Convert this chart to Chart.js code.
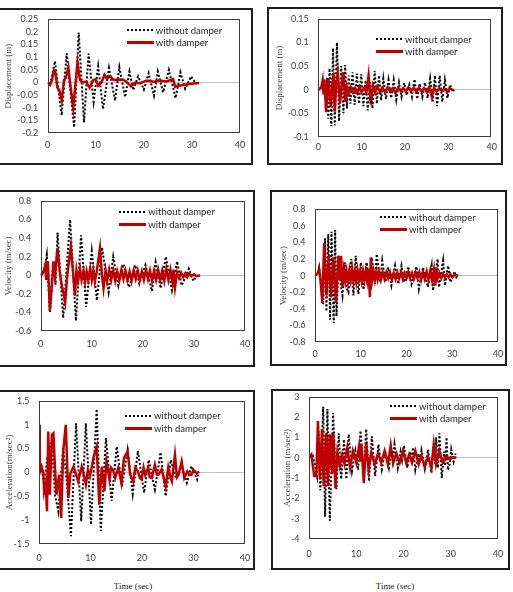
<!DOCTYPE html>
<html>
<head>
<meta charset="utf-8">
<script src="https://cdn.jsdelivr.net/npm/chart.js@4.4.1/dist/chart.umd.min.js"></script>
<style>
  body { margin: 0; background: #fff; width: 513px; height: 592px; position: relative; overflow: hidden; }
  .box { position: absolute; box-sizing: border-box; border: 2px solid #1e1e1e; }
  canvas { position: absolute; }
  .legend { position: absolute; font: 9.5px Lato, sans-serif; color: #262626; }
  .legend .row { display: flex; align-items: center; height: 12.5px; white-space: nowrap; }
  .legend .s { width: 27px; margin-right: 2px; }
  .xt { position: absolute; font: 9px "Liberation Serif", serif; color: #222; transform: translateX(-50%); }
</style>
</head>
<body>
<script>
// [time (sec), value] pairs
const dispNoDamperA = [[0,0],[0.5,-0.01],[1.5,0.084],[2.9,-0.13],[3.95,0.115],[5.5,-0.178],[6.45,0.198],[7.55,-0.158],[8.5,0.114],[9.55,-0.076],[10.5,0.064],[11.5,-0.105],[12.75,0.057],[14.0,-0.072],[14.9,0.061],[16.1,-0.058],[17.0,0.043],[17.8,-0.03],[18.8,0.024],[20.0,-0.028],[21.0,0.037],[22.1,-0.052],[22.9,0.043],[24.0,-0.039],[25.2,0.05],[26.6,-0.062],[27.6,0.04],[28.6,-0.025],[29.8,0.024],[30.7,0]];
const dispWithDamperA = [[0,0],[0.5,-0.01],[0.9,0.01],[1.3,0.048],[1.6,0.04],[2.0,-0.02],[2.4,-0.03],[2.9,-0.07],[3.4,0.01],[3.8,0.02],[4.3,0.06],[4.6,0.008],[5.3,-0.1],[6.2,0.08],[6.7,0.01],[7.3,0],[8.0,0.003],[8.7,-0.02],[9.5,0.01],[10.0,0.013],[10.5,-0.013],[11.2,0],[11.8,0.03],[12.3,0.015],[13.0,0.025],[13.7,0.01],[14.7,0.012],[15.7,0.011],[16.4,0.003],[17.3,-0.015],[18.1,-0.001],[19.2,-0.003],[20.6,0.008],[22.0,0.003],[23.3,0.008],[24.7,0.004],[26.1,0.013],[26.5,-0.017],[27.5,-0.012],[28.9,-0.008],[29.9,-0.005],[30.9,-0.003],[31.5,-0.002]];

const dispNoDamperB = [[0,0],[0.8,0],[1.3,0.01],[1.7,-0.02],[2.0,0.025],[2.3,-0.062],[2.6,0.045],[3.0,-0.078],[3.4,0.088],[3.8,-0.076],[4.3,0.1],[4.8,-0.067],[5.3,0.05],[5.8,-0.05],[6.2,0.052],[6.6,-0.04],[7.0,0.03],[7.4,-0.03],[7.9,0.037],[8.4,-0.032],[8.9,0.034],[9.4,-0.03],[9.9,0.033],[10.4,-0.035],[10.9,0.02],[11.4,-0.044],[12.0,0.016],[12.5,-0.04],[13.0,0.04],[13.5,-0.03],[14.0,0.03],[14.5,-0.023],[15.0,0.023],[15.6,-0.02],[16.2,0.02],[16.8,-0.018],[17.4,0.02],[18.0,-0.021],[18.6,0.015],[19.2,-0.015],[19.8,0.014],[20.4,-0.012],[21.0,0.01],[21.6,-0.015],[22.2,0.022],[22.8,-0.02],[23.4,0.013],[24.0,-0.015],[24.6,0.015],[25.2,-0.018],[25.8,0.023],[26.4,-0.025],[26.9,0.03],[27.4,-0.035],[28.0,0.03],[28.6,-0.026],[29.2,0.02],[29.8,-0.018],[30.4,0.01],[31.0,-0.005],[31.3,0]];
const dispWithDamperB = [[0,0],[0.7,0.005],[1.0,0.02],[1.2,-0.01],[1.4,0.022],[1.8,-0.048],[2.3,0.023],[2.6,-0.01],[2.9,-0.037],[3.2,0.01],[3.5,0.035],[3.8,-0.047],[4.1,0.01],[4.5,0.035],[5.0,-0.03],[5.4,0.01],[5.8,0.037],[6.2,-0.026],[6.6,0.005],[7.0,-0.008],[7.5,0.005],[8.0,-0.006],[8.5,0.003],[9.0,-0.007],[9.5,0.006],[10.0,-0.005],[10.6,0.004],[11.1,-0.006],[11.6,0.03],[12.1,-0.032],[12.6,0.008],[13.1,-0.006],[13.6,0.007],[14.2,-0.005],[14.8,0.004],[15.4,-0.006],[16.0,0.005],[16.6,-0.004],[17.2,0.003],[17.8,-0.008],[18.4,0.004],[19.0,-0.003],[19.6,0.003],[20.2,-0.004],[20.8,0.005],[21.4,-0.003],[22.0,0.004],[22.6,-0.005],[23.2,0.004],[23.8,-0.004],[24.4,0.003],[25.0,-0.004],[25.6,0.006],[26.2,-0.016],[26.7,0.004],[27.3,-0.004],[27.9,0.003],[28.5,-0.003],[29.1,0.002],[29.7,-0.003],[30.3,0.002],[31.0,0]];

const velNoDamperA = [[0,0],[0.7,0.05],[1.2,0.22],[1.8,-0.4],[2.5,0.15],[2.9,-0.1],[3.3,0.46],[4.4,-0.46],[5.75,0.6],[6.9,-0.49],[7.9,0.43],[8.9,-0.34],[10.0,0.26],[11.0,-0.27],[12.0,0.3],[13.3,-0.18],[14.2,0.2],[15.2,-0.11],[16.2,0.12],[17.3,-0.13],[18.5,0.11],[19.3,-0.09],[20.5,0.11],[21.8,-0.17],[22.5,0.14],[23.5,-0.14],[24.5,0.2],[25.7,-0.16],[26.7,0.15],[27.6,-0.11],[29.0,0.07],[29.9,-0.06],[30.6,0]];
const velWithDamperA = [[0,0],[0.5,0.03],[0.85,0.1],[1.1,-0.05],[1.4,0.15],[1.8,-0.38],[2.2,-0.1],[2.5,0.15],[2.8,0],[3.3,0.29],[3.7,0.05],[4.1,-0.1],[4.5,-0.2],[4.8,-0.29],[5.2,0],[5.9,0.31],[6.3,0.05],[6.7,-0.22],[7.0,0.05],[7.3,-0.06],[7.7,0.07],[8.0,-0.05],[8.4,0.05],[8.7,-0.07],[9.0,0.04],[9.3,-0.05],[9.7,0.07],[10.0,-0.05],[10.3,0.05],[10.6,-0.07],[11.0,0.05],[11.6,0.29],[12.0,0],[12.3,-0.14],[12.7,0.05],[13.0,-0.06],[13.4,0.06],[13.8,-0.05],[14.2,0.05],[14.6,-0.06],[15.0,0.04],[15.4,-0.05],[15.8,0.06],[16.2,-0.04],[16.6,0.05],[17.0,-0.05],[17.4,0.04],[17.8,-0.06],[18.2,0.05],[18.6,-0.04],[19.0,0.05],[19.4,-0.05],[19.8,0.04],[20.2,-0.05],[20.6,0.06],[21.0,-0.04],[21.4,0.05],[21.8,-0.06],[22.2,0.05],[22.6,-0.05],[23.0,0.06],[23.4,-0.05],[23.8,0.05],[24.2,-0.06],[24.6,0.07],[25.0,-0.05],[25.4,0.06],[25.8,-0.07],[26.0,0.06],[26.3,-0.13],[26.7,0.03],[27.1,-0.03],[27.5,0.03],[27.9,-0.02],[28.3,0.02],[28.7,-0.02],[29.1,0.02],[29.5,-0.01],[30.0,0.01],[30.5,-0.01],[31.2,0]];

const velNoDamperB = [[0,0],[0.6,0.02],[0.9,0.1],[1.3,-0.1],[1.8,-0.35],[2.2,0.45],[2.5,-0.43],[2.9,0.5],[3.3,-0.53],[3.6,0.53],[4.1,-0.57],[4.4,0.55],[4.7,-0.49],[5.2,0.24],[5.6,-0.1],[6.0,-0.24],[6.5,0.16],[6.9,-0.15],[7.3,-0.2],[7.9,0.2],[8.4,-0.24],[8.9,0.24],[9.5,-0.22],[10.0,0.16],[10.6,-0.17],[11.3,0.16],[11.9,-0.12],[12.4,0.22],[13.1,-0.1],[13.5,0.26],[14.2,-0.08],[14.7,0.18],[15.4,-0.08],[16.0,0.1],[16.7,-0.12],[17.5,0.12],[18.2,-0.1],[18.9,0.12],[19.5,-0.08],[20.4,0.11],[21.1,-0.1],[22.2,0.11],[22.7,-0.16],[23.6,0.1],[24.7,-0.14],[25.5,0.12],[25.8,-0.18],[26.8,0.2],[27.1,-0.14],[28.0,0.18],[28.4,-0.12],[29.1,0.12],[29.6,-0.08],[30.5,0.05],[30.9,-0.02],[31.2,0]];
const velWithDamperB = [[0,0],[0.6,0.03],[0.9,0.08],[1.2,-0.05],[1.6,-0.33],[2.0,0.39],[2.5,-0.24],[3.0,0.24],[3.5,-0.26],[4.0,0.22],[4.6,-0.33],[5.1,0.24],[5.4,-0.05],[5.7,0.24],[6.0,-0.14],[6.3,0.06],[6.6,-0.06],[6.9,0.05],[7.2,-0.07],[7.5,0.06],[7.8,-0.05],[8.1,0.08],[8.4,-0.06],[8.7,0.05],[9.0,-0.07],[9.3,0.06],[9.6,-0.05],[9.9,0.05],[10.2,-0.06],[10.5,0.05],[10.8,-0.05],[11.1,0.06],[11.4,-0.06],[11.7,0.08],[12.0,-0.26],[12.2,0.22],[12.5,-0.05],[12.8,0.05],[13.1,-0.05],[13.4,0.05],[13.7,-0.04],[14.0,0.05],[14.4,-0.05],[14.8,0.04],[15.2,-0.04],[15.6,0.04],[16.0,-0.03],[16.4,0.04],[16.8,-0.04],[17.2,0.03],[17.6,-0.04],[18.0,0.04],[18.4,-0.03],[18.8,0.04],[19.2,-0.04],[19.6,0.03],[20.0,-0.03],[20.4,0.04],[20.8,-0.03],[21.2,0.03],[21.6,-0.04],[22.0,0.04],[22.4,-0.03],[22.8,0.04],[23.2,-0.05],[23.6,0.04],[24.0,-0.04],[24.4,0.05],[24.8,-0.05],[25.2,0.06],[25.6,-0.06],[26.0,0.07],[26.3,-0.12],[26.5,0.1],[26.8,-0.03],[27.2,0.03],[27.6,-0.03],[28.0,0.02],[28.4,-0.02],[28.8,0.02],[29.2,-0.02],[29.6,0.02],[30.0,-0.02],[30.5,0.01],[31.3,0]];

const accNoDamperA = [[0,0],[0.5,0.1],[1.0,-0.26],[1.6,0.3],[2.5,0.65],[3.1,-0.47],[3.75,-0.82],[4.7,0.51],[5.4,-0.2],[6.2,-1.34],[7.2,1.03],[8.2,-1.03],[9.1,1.03],[10.1,-1.1],[11.2,1.33],[12.0,-1.23],[13.0,0.72],[14.1,-0.6],[15.1,0.54],[16.1,-0.3],[17.2,0.47],[18.2,-0.45],[19.2,0.45],[20.4,-0.43],[21.3,0.26],[22.5,-0.36],[23.6,0.42],[24.6,-0.5],[25.6,0.26],[26.6,-0.12],[27.7,0.13],[28.7,-0.22],[29.6,0.13],[30.7,-0.15],[31.0,0]];
const accWithDamperA = [[0,1.0],[0.15,0],[0.5,0.12],[0.85,-0.02],[1.0,-0.4],[1.3,-0.25],[1.55,-0.82],[1.8,0.86],[2.1,-0.47],[2.5,0.79],[2.8,0.82],[3.1,0.1],[3.4,-0.47],[3.9,-0.05],[4.3,-0.96],[4.7,0.44],[5.2,1.0],[5.7,-0.54],[6.1,-0.02],[6.7,0.12],[7.2,-0.05],[7.6,-0.19],[8.3,0.12],[8.7,-0.05],[9.1,-0.26],[9.5,0.05],[9.9,-0.08],[10.3,0.15],[10.7,0.37],[11.2,0.54],[11.7,-0.68],[12.2,0.12],[12.7,-0.4],[13.1,0.23],[13.7,-0.15],[14.0,0.1],[14.4,0.05],[14.8,-0.12],[15.4,0.1],[16.0,-0.22],[16.5,0.3],[17.2,0.44],[17.7,-0.05],[18.3,-0.19],[18.7,0.1],[19.2,0.02],[19.6,-0.12],[19.9,-0.15],[20.3,0.1],[20.6,-0.05],[21.2,0.1],[21.5,-0.1],[21.9,-0.12],[22.5,0.16],[22.9,-0.05],[23.2,-0.05],[23.8,0.06],[24.2,-0.1],[24.6,-0.3],[25.1,0.1],[25.5,-0.1],[25.8,-0.19],[26.4,0.37],[26.8,-0.1],[27.1,-0.05],[27.7,0.23],[28.2,-0.12],[28.8,0.02],[29.2,-0.05],[29.6,-0.05],[30.0,0.05],[30.6,-0.02],[31.1,0.02]];

const accNoDamperB = [[0,0],[0.8,0.1],[1.2,-0.3],[1.7,-0.9],[2.0,1.3],[2.4,-1.6],[3.0,2.5],[3.4,-2.9],[3.9,2.4],[4.4,-3.1],[5.1,2.2],[5.8,-1.55],[6.3,1.2],[6.8,-1.05],[7.4,0.9],[7.9,-1.05],[8.4,1.15],[9.1,-0.65],[9.8,0.33],[10.4,-0.6],[10.9,1.33],[11.6,-0.8],[12.1,1.41],[12.7,-1.15],[13.3,1.05],[14.0,-0.9],[14.7,0.65],[15.4,-0.57],[16.1,0.33],[16.9,-0.5],[17.5,0.4],[17.8,-0.1],[18.1,0.65],[18.8,-0.5],[19.4,0.3],[19.7,-0.1],[20.1,0.6],[20.8,-0.5],[21.4,0.3],[21.7,-0.1],[22.0,0.5],[22.5,-0.6],[23.2,0.2],[23.5,-0.2],[23.8,0.35],[24.5,-0.55],[25.2,0.4],[25.9,-0.75],[26.4,0.6],[26.7,-0.3],[26.9,1.0],[27.3,-0.5],[27.6,1.2],[28.1,-1.0],[28.6,0.3],[28.8,-0.4],[29.1,1.0],[29.4,-0.6],[29.8,-0.3],[30.1,0.4],[30.6,-0.2],[31.0,0.2]];
const accWithDamperB = [[0,0],[0.5,0.15],[1.1,-0.9],[1.55,-0.9],[1.9,1.8],[2.3,-1.05],[2.75,1.4],[3.1,-1.4],[3.6,1.2],[4.0,-1.4],[4.4,1.15],[4.55,-0.5],[4.7,1.15],[4.9,-0.8],[5.15,1.2],[5.6,-1.5],[6.0,0.25],[6.5,-0.4],[7.0,0.15],[7.5,-0.3],[8.1,0.5],[8.7,-0.5],[9.3,0.33],[10.0,-0.25],[10.6,0.57],[10.85,-0.2],[11.1,0.65],[11.6,-1.25],[12.1,0.73],[12.6,-0.57],[13.2,0.25],[13.9,-0.33],[14.6,0.2],[15.3,-0.25],[16.0,0.33],[16.7,-0.33],[17.3,0.6],[17.8,-0.28],[18.5,0.2],[19.2,-0.25],[19.9,0.33],[20.6,-0.28],[21.2,0.16],[21.8,-0.25],[22.5,0.33],[23.2,-0.33],[23.8,0.08],[24.5,-0.45],[25.2,0.05],[25.9,-0.5],[26.4,0.65],[26.9,-0.33],[27.6,0.33],[28.3,-0.25],[29.1,0.08],[29.8,-0.08],[30.5,0.03],[31.2,0]];

const seriesLabels = ['without damper', 'with damper'];
const xTicks = { min: 0, max: 40, step: 10 };

// layout of the six panels (page pixels)
const panels = [
  { box: [-3, 8, 256, 157], canvas: [0, 10, 251, 153], area: [47.7, 19.3, 240, 133], min: -0.2, max: 0.25, step: 0.05,
    title: 'Displacement (m)', tpad: 3, xpad: 7, legend: [126.7, 30], series: [dispNoDamperA, dispWithDamperA] },
  { box: [267, 7, 236, 158], canvas: [269, 9, 232, 154], area: [318.3, 19, 491.7, 136.7], min: -0.1, max: 0.15, step: 0.05,
    title: 'Displacement (m)', tpad: 5.6, xpad: 4.6, legend: [376, 39], series: [dispNoDamperB, dispWithDamperB] },
  { box: [-3, 190, 258, 177], canvas: [0, 192, 253, 173], area: [40.7, 201, 245, 331], min: -0.6, max: 0.8, step: 0.2,
    title: 'Velocity (m/sec)', tpad: 3.6, xpad: 8, legend: [119.3, 211.7], series: [velNoDamperA, velWithDamperA] },
  { box: [270, 190, 237, 176], canvas: [272, 192, 233, 172], area: [315, 209.3, 498, 342], min: -0.8, max: 0.8, step: 0.2,
    title: 'Velocity (m/sec)', tpad: 6.6, xpad: 6.6, legend: [380, 217], series: [velNoDamperB, velWithDamperB] },
  { box: [-3, 390, 258, 180], canvas: [0, 392, 253, 176], area: [39, 401, 245, 543.7], min: -1.5, max: 1.5, step: 0.5,
    title: 'Acceleration(m/sec²)', tpad: 4.6, xpad: 9, legend: [125, 415.7], series: [accNoDamperA, accWithDamperA] },
  { box: [271, 389, 239, 181], canvas: [273, 391, 235, 177], area: [309, 396.7, 498, 539], min: -4, max: 3, step: 1,
    title: 'Acceleration (m/sec²)', tpad: 9.6, xpad: 9.6, legend: [390, 406], series: [accNoDamperB, accWithDamperB] }
];

const frame = {
  id: 'frame',
  afterDraw(chart) {
    const { ctx, chartArea: a } = chart;
    ctx.save();
    ctx.strokeStyle = '#3c3c3c';
    ctx.lineWidth = 1;
    ctx.strokeRect(Math.round(a.left) + 0.5, Math.round(a.top) + 0.5, Math.round(a.width) - 1, Math.round(a.height) - 1);
    ctx.restore();
  }
};

const tickFont = { family: 'Lato', size: 9 };

function addPanel(p) {
  const box = document.createElement('div');
  box.className = 'box';
  Object.assign(box.style, { left: p.box[0] + 'px', top: p.box[1] + 'px', width: p.box[2] + 'px', height: p.box[3] + 'px' });
  document.body.appendChild(box);

  const [cx, cy, cw, ch] = p.canvas;
  const [l, t, r, b] = p.area;
  const cv = document.createElement('canvas');
  cv.width = cw; cv.height = ch;
  cv.style.left = cx + 'px'; cv.style.top = cy + 'px';
  document.body.appendChild(cv);

  const toPts = arr => arr.map(([x, y]) => ({ x, y }));

  const chart = new Chart(cv.getContext('2d'), {
    type: 'scatter',
    data: {
      datasets: [
        { label: seriesLabels[0], data: toPts(p.series[0]), showLine: true, borderColor: '#000', borderWidth: 2,
          borderDash: [2, 2], pointRadius: 0, order: 1 },
        { label: seriesLabels[1], data: toPts(p.series[1]), showLine: true, borderColor: '#c00000', borderWidth: 2.5,
          pointRadius: 0, order: 0 }
      ]
    },
    options: {
      responsive: false,
      animation: false,
      devicePixelRatio: 1,
      layout: { padding: { left: 0, top: t - cy, right: cx + cw - r, bottom: 0 } },
      plugins: { legend: { display: false }, tooltip: { enabled: false } },
      scales: {
        x: {
          type: 'linear', min: xTicks.min, max: xTicks.max,
          ticks: { stepSize: xTicks.step, padding: p.xpad, color: '#404040', font: tickFont, maxRotation: 0, autoSkip: false },
          grid: { display: false, drawTicks: false },
          border: { display: false },
          afterFit: s => { s.height = cy + ch - b; s.paddingLeft = 0; s.paddingRight = 0; }
        },
        y: {
          min: p.min, max: p.max,
          ticks: { stepSize: p.step, padding: 9.5, color: '#404040', font: tickFont, autoSkip: false,
                   callback: v => String(+v.toFixed(2)) },
          grid: { drawTicks: false, lineWidth: 1,
                  color: c => (c.tick && Math.abs(c.tick.value) < 1e-9) ? '#c0c0c0' : 'rgba(0,0,0,0)' },
          border: { display: false },
          title: { display: true, text: p.title, color: '#404040',
                   font: { family: 'Liberation Serif', size: 9 }, padding: { top: p.tpad, bottom: 0 } },
          afterFit: s => { s.width = l - cx; s.paddingTop = 0; s.paddingBottom = 0; }
        }
      }
    },
    plugins: [frame]
  });

  // legend drawn in the plot area, built from the chart's own datasets
  const lg = document.createElement('div');
  lg.className = 'legend';
  lg.style.left = p.legend[0] + 'px';
  lg.style.top = (p.legend[1] - 6.25) + 'px';
  chart.data.datasets.forEach((ds, i) => {
    const row = document.createElement('div');
    row.className = 'row';
    const s = document.createElement('div');
    s.className = 's';
    if (i === 0) {
      s.style.height = '2px';
      s.style.background = 'repeating-linear-gradient(90deg,#000 0 2px,transparent 2px 4px)';
    } else {
      s.style.height = '3px';
      s.style.background = '#c00000';
    }
    const tx = document.createElement('span');
    tx.textContent = ds.label;
    row.appendChild(s);
    row.appendChild(tx);
    lg.appendChild(row);
  });
  document.body.appendChild(lg);
}

panels.forEach(addPanel);

[133, 395].forEach(x => {
  const d = document.createElement('div');
  d.className = 'xt';
  d.textContent = 'Time (sec)';
  d.style.left = x + 'px';
  d.style.top = '581px';
  document.body.appendChild(d);
});
</script>
</body>
</html>
